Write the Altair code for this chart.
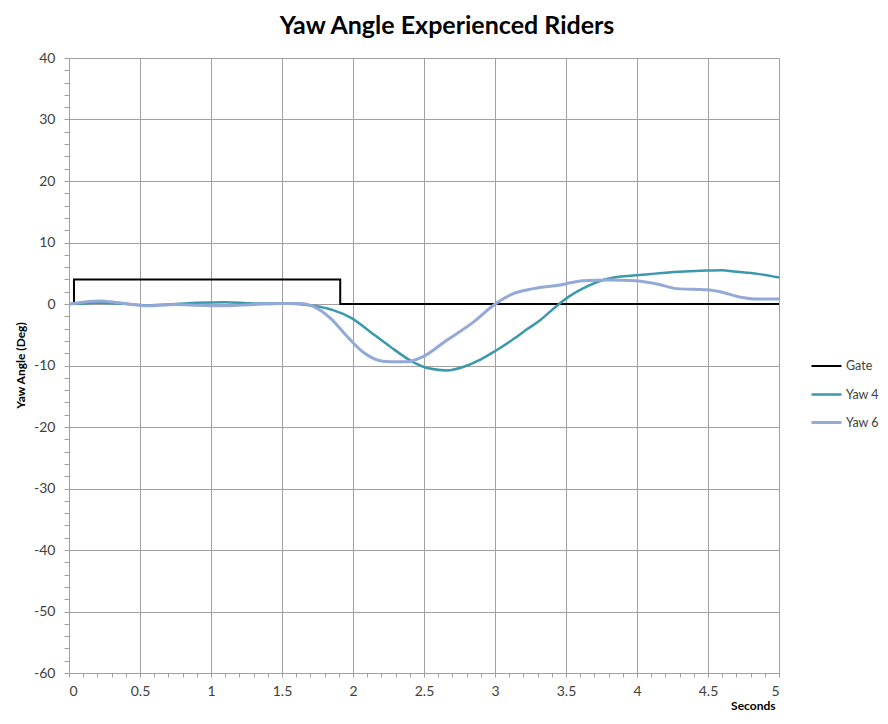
import altair as alt
import pandas as pd

# ---- data ----
series_names = ["Gate", "Yaw 4", "Yaw 6"]
series_colors = ["#000000", "#3b98ad", "#93a9d6"]

gate_t = [0.0, 0.035, 0.035, 1.91, 1.91, 5.0]
gate_v = [0, 0, 4, 4, 0, 0]

yaw4_t = [0.0, 0.1, 0.2, 0.35, 0.55, 0.75, 0.9, 1.1, 1.3, 1.5, 1.6, 1.72, 1.86,
          1.99, 2.12, 2.26, 2.42, 2.54, 2.66, 2.78, 2.9, 2.99, 3.13, 3.22, 3.32,
          3.43, 3.52, 3.62, 3.81, 4.02, 4.26, 4.49, 4.6, 4.68, 4.85, 5.0]
yaw4_v = [0.0, 0.1, 0.2, 0.1, -0.2, 0.0, 0.2, 0.3, 0.1, 0.1, 0.0, -0.3, -1.0,
          -2.3, -4.5, -6.9, -9.4, -10.5, -10.8, -10.2, -9.0, -7.8, -5.7, -4.2, -2.6,
          -0.4, 1.2, 2.55, 4.2, 4.7, 5.2, 5.45, 5.5, 5.3, 4.9, 4.3]

yaw6_t = [0.0, 0.1, 0.22, 0.35, 0.55, 0.75, 0.9, 1.1, 1.3, 1.5, 1.63, 1.72, 1.84,
          1.96, 2.07, 2.21, 2.3, 2.38, 2.49, 2.66, 2.85, 2.99, 3.13, 3.27, 3.46,
          3.62, 3.81, 3.99, 4.15, 4.28, 4.49, 4.6, 4.73, 4.85, 5.0]
yaw6_v = [0.0, 0.3, 0.5, 0.2, -0.3, -0.1, -0.2, -0.3, -0.1, 0.1, 0.1, -0.4, -2.3,
          -5.3, -7.8, -9.3, -9.4, -9.4, -8.6, -5.9, -2.9, -0.2, 1.7, 2.5, 3.1,
          3.8, 3.9, 3.8, 3.2, 2.5, 2.3, 1.9, 1.1, 0.8, 0.8]

x_tick_values = [round(i * 0.1, 1) for i in range(51)]
y_tick_values = list(range(-60, 41, 2))

rows = []
for name, ts, vs in [("Gate", gate_t, gate_v), ("Yaw 4", yaw4_t, yaw4_v), ("Yaw 6", yaw6_t, yaw6_v)]:
    for i, (t, v) in enumerate(zip(ts, vs)):
        rows.append({"series": name, "t": t, "v": v, "o": i})
df = pd.DataFrame(rows)

FONT = "Lato"
GRID = "#a0a0a0"
half = "abs(datum.value*2 - round(datum.value*2)) < 1e-6"
tens = "abs(datum.value % 10) < 1e-6"

x_axis = alt.Axis(
    values=x_tick_values,
    title="Seconds",
    labelExpr=f"({half}) ? toString(round(datum.value*10)/10) : ''",
    labelOverlap=False,
    gridOpacity={"condition": {"test": half, "value": 1}, "value": 0},
    gridColor=GRID,
    domainColor=GRID,
    tickColor=GRID,
    tickSize=4,
    labelPadding=7,
    labelFont=FONT,
    labelFontSize=14,
    labelColor="#404040",
    titleFont=FONT,
    titleFontSize=12,
    titleFontWeight="bold",
    titleColor="#000000",
    titleAnchor="end",
    titleAlign="right",
    titleX=706,
    titleY=32,
    titleBaseline="middle",
)

y_axis = alt.Axis(
    values=y_tick_values,
    title="Yaw Angle (Deg)",
    labelExpr=f"({tens}) ? toString(datum.value) : ''",
    labelOverlap=False,
    gridOpacity={"condition": {"test": tens, "value": 1}, "value": 0},
    gridColor=GRID,
    domainColor=GRID,
    tickColor=GRID,
    tickSize=5,
    labelPadding=9,
    labelFont=FONT,
    labelFontSize=14,
    labelColor="#404040",
    titleFont=FONT,
    titleFontSize=12,
    titleFontWeight="bold",
    titleColor="#000000",
    titleX=-49,
    titleY=307,
    titleBaseline="middle",
)

x_enc = alt.X("t:Q", scale=alt.Scale(domain=[0, 5], nice=False, zero=False), axis=x_axis)
y_enc = alt.Y("v:Q", scale=alt.Scale(domain=[-60, 40], nice=False), axis=y_axis)
color_enc = alt.Color(
    "series:N",
    scale=alt.Scale(domain=series_names, range=series_colors),
    legend=alt.Legend(
        title=None,
        orient="none",
        legendX=741,
        legendY=292,
        symbolType="stroke",
        symbolSize=900,
        symbolStrokeWidth=3,
        labelFont=FONT,
        labelFontSize=12.5,
        labelColor="#404040",
        labelOffset=3,
        rowPadding=5,
    ),
)
sw_enc = alt.StrokeWidth("series:N", scale=alt.Scale(domain=series_names, range=[2, 3, 3]), legend=None)

base = alt.Chart(df).encode(x=x_enc, y=y_enc, color=color_enc, strokeWidth=sw_enc, order="o:Q")

gate = base.transform_filter("datum.series === 'Gate'").mark_line(interpolate="linear")
yaws = base.transform_filter("datum.series !== 'Gate'").mark_line(interpolate="monotone")

chart = (
    alt.layer(gate, yaws)
    .properties(
        width=710,
        height=615,
        autosize=alt.AutoSizeParams(type="none"),
        padding={"left": 61, "top": 50, "right": 101, "bottom": 38},
        title=alt.Title(
            "Yaw Angle Experienced Riders",
            font=FONT,
            fontSize=25,
            fontWeight="bold",
            color="#000000",
            anchor="middle",
            frame="group",
            dx=23,
            offset=12,
        ),
    )
    .configure_view(strokeWidth=0)
    .configure(background="white")
)

chart.save("out.html", embed_options={"renderer": "svg", "actions": False})
